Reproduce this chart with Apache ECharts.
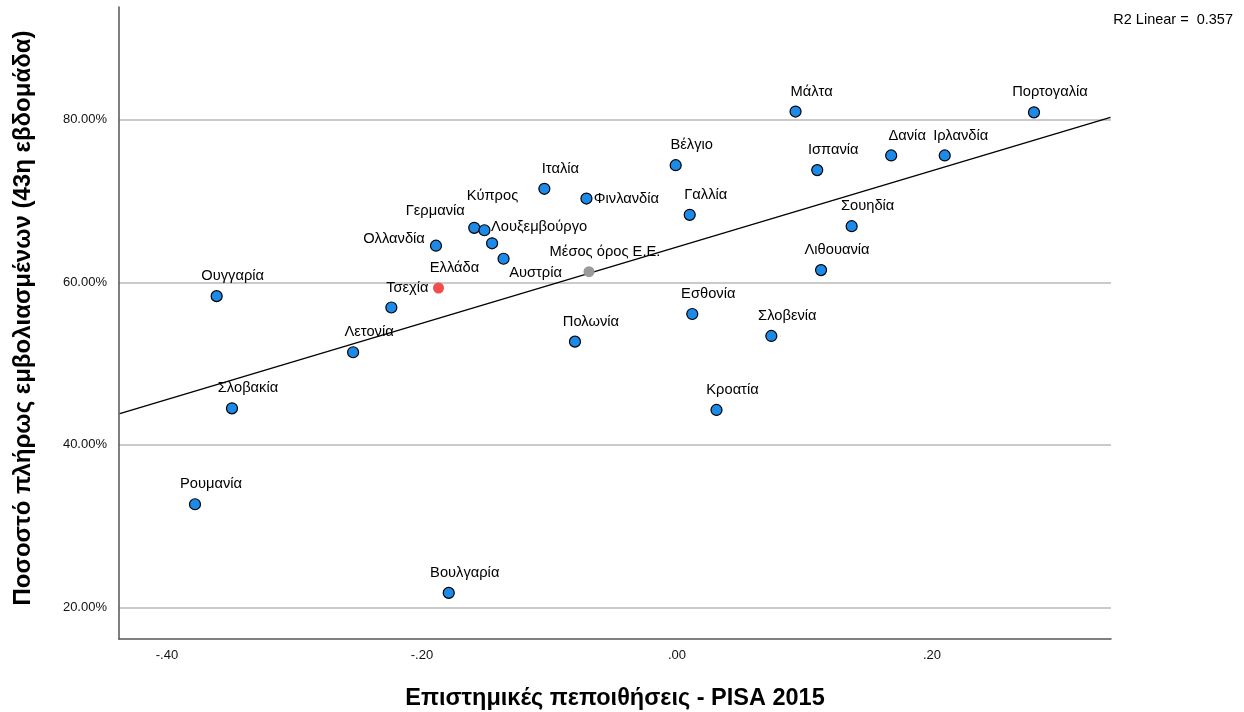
<!DOCTYPE html>
<html>
<head>
<meta charset="utf-8">
<title>Εμβολιασμοί και επιστημικές πεποιθήσεις</title>
<script src="https://cdn.jsdelivr.net/npm/echarts@6/dist/echarts.min.js"></script>
<style>
  html, body { margin: 0; padding: 0; background: #fff; }
  #chart { width: 1244px; height: 712px; }
</style>
</head>
<body>
<div id="chart"></div>
<script>
// values
const countries = [
  'Μάλτα', 'Πορτογαλία', 'Ιρλανδία', 'Δανία', 'Βέλγιο', 'Ισπανία', 'Ιταλία',
  'Φινλανδία', 'Γαλλία', 'Σουηδία', 'Γερμανία', 'Κύπρος', 'Λουξεμβούργο',
  'Αυστρία', 'Ολλανδία', 'Μέσος όρος Ε.Ε.', 'Λιθουανία', 'Ελλάδα', 'Ουγγαρία',
  'Τσεχία', 'Εσθονία', 'Σλοβενία', 'Πολωνία', 'Λετονία', 'Σλοβακία',
  'Κροατία', 'Ρουμανία', 'Βουλγαρία'
];
const scienceBeliefs = [
  0.093, 0.280, 0.210, 0.168, -0.001, 0.110, -0.104,
  -0.071, 0.010, 0.137, -0.159, -0.151, -0.145,
  -0.136, -0.189, -0.069, 0.113, -0.187, -0.361,
  -0.224, 0.012, 0.074, -0.080, -0.254, -0.349,
  0.031, -0.378, -0.179
];
const vaccinated = [
  81.0, 80.9, 75.6, 75.6, 74.4, 73.8, 71.5,
  70.3, 68.3, 66.9, 66.7, 66.4, 64.8,
  62.9, 64.5, 61.3, 61.5, 59.3, 58.3,
  56.9, 56.1, 53.4, 52.7, 51.4, 44.5,
  44.3, 32.7, 21.8
];
const yTicks = [20, 40, 60, 80];
const xTicks = [-0.4, -0.2, 0, 0.2];
// linear fit line, ends
const fitX = [-0.437, 0.340];
const fitY = [43.86, 80.3];
const r2Linear = '0.357';

// label placement (pixels from the dot centre)
const labelOffset = {
  'Φινλανδία': [40, 0],
  'Γερμανία': [-39, -17],
  'Κύπρος': [8, -34],
  'Λουξεμβούργο': [47, -16],
  'Αυστρία': [32, 14],
  'Ολλανδία': [-42, -7]
};
const dotColor = { 'Ελλάδα': '#f24c4c', 'Μέσος όρος Ε.Ε.': '#9a9a9a' };

const font = "'Liberation Sans', Arial, sans-serif";
const chart = echarts.init(document.getElementById('chart'));

const points = countries.map((name, i) => {
  const special = dotColor[name];
  return {
    name: name,
    value: [scienceBeliefs[i], vaccinated[i]],
    itemStyle: special
      ? { color: special, borderWidth: 0, opacity: 1 }
      : { color: '#1c8ae8', borderColor: '#000', borderWidth: 1.2, opacity: 1 },
    label: { offset: labelOffset[name] || [16, -20] }
  };
});

const option = {
  animation: false,
  backgroundColor: '#fff',
  title: {
    text: 'R2 Linear =  ' + r2Linear,
    right: 6,
    top: 7,
    textStyle: { fontFamily: font, fontSize: 14.5, fontWeight: 'normal', color: '#000' }
  },
  grid: { left: 119, right: 133, top: 7, bottom: 73, outerBoundsMode: 'none', containLabel: false },
  xAxis: {
    type: 'value',
    min: -0.4376,
    max: 0.3404,
    name: 'Επιστημικές πεποιθήσεις - PISA 2015',
    nameLocation: 'middle',
    nameGap: 48,
    nameTextStyle: { fontFamily: font, fontSize: 23.5, fontWeight: 'bold', color: '#000' },
    axisLine: { onZero: false, lineStyle: { color: '#555', width: 1.5 } },
    axisTick: { show: false, customValues: xTicks },
    splitLine: { show: false },
    axisLabel: {
      customValues: xTicks,
      margin: 10,
      fontFamily: font,
      fontSize: 13,
      color: '#111',
      formatter: v => v.toFixed(2).replace('0.', '.')
    }
  },
  yAxis: {
    type: 'value',
    min: 16.13,
    max: 93.86,
    name: 'Ποσοστό πλήρως εμβολιασμένων (43η εβδομάδα)',
    nameLocation: 'middle',
    nameGap: 84,
    nameTextStyle: {
      fontFamily: font, fontSize: 24, fontWeight: 'bold', color: '#000',
      padding: [0, 0, 0, 10]
    },
    axisLine: { show: true, onZero: false, lineStyle: { color: '#555', width: 1.5 } },
    axisTick: { show: false, customValues: yTicks },
    splitLine: { show: true, lineStyle: { color: '#b8b8b8', width: 1.5 } },
    axisLabel: {
      customValues: yTicks,
      margin: 12,
      fontFamily: font,
      fontSize: 13,
      color: '#111',
      formatter: v => v.toFixed(2) + '%'
    }
  },
  series: [
    {
      type: 'line',
      data: fitX.map((x, i) => [x, fitY[i]]),
      symbol: 'none',
      lineStyle: { color: '#000', width: 1.3 },
      silent: true,
      z: 2
    },
    {
      type: 'scatter',
      data: points,
      symbolSize: 11,
      z: 3,
      label: {
        show: true,
        position: 'inside',
        formatter: '{b}',
        fontFamily: font,
        fontSize: 14.7,
        color: '#000',
        opacity: 1,
        align: 'center',
        verticalAlign: 'middle'
      }
    }
  ]
};

chart.setOption(option);
window.addEventListener('resize', () => chart.resize());
</script>
</body>
</html>
